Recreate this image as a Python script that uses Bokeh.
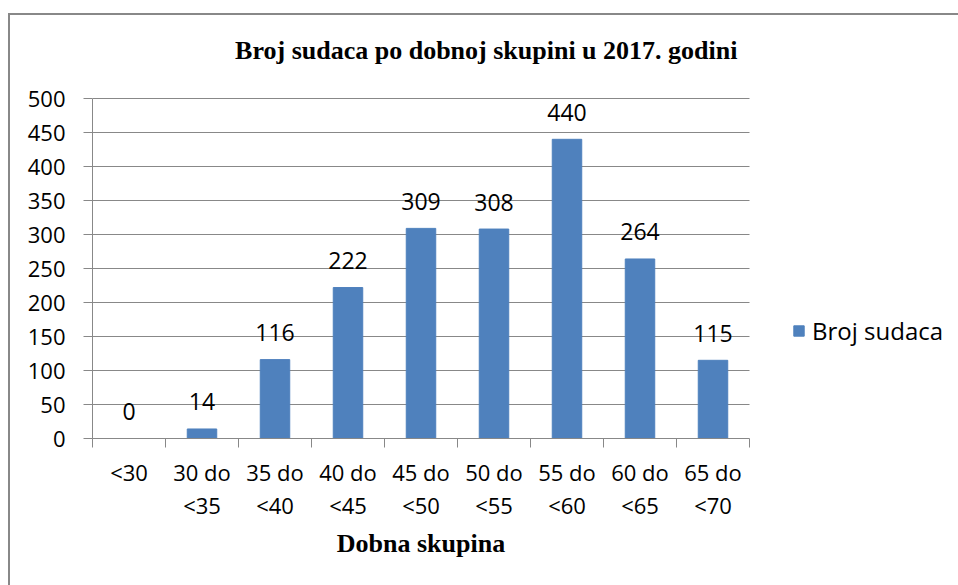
from bokeh.plotting import figure
from bokeh.models import Range1d, FixedTicker, LinearAxis, Legend, LegendItem, Label
from bokeh.core.properties import value
from bokeh.embed import file_html
from bokeh.resources import INLINE

title_text = "Broj sudaca po dobnoj skupini  u 2017. godini"
x_title = "Dobna skupina"
series_name = "Broj sudaca"
categories = ["<30", "30 do\n<35", "35 do\n<40", "40 do\n<45", "45 do\n<50",
              "50 do\n<55", "55 do\n<60", "60 do\n<65", "65 do\n<70"]
counts = [0, 14, 116, 222, 309, 308, 440, 264, 115]
y_ticks = [0, 50, 100, 150, 200, 250, 300, 350, 400, 450, 500]

BAR = "#4F81BD"
GRID = "#888888"
SANS = "Open Sans"
SERIF = "Liberation Serif"

n = len(categories)
centers = [i + 0.5 for i in range(n)]
bounds = [float(i) for i in range(n + 1)]
line1 = [c.split("\n")[0] for c in categories]
line2 = [(c.split("\n") + [""])[1] for c in categories]

W, H = 958, 585
LEFT, TOP, BOTTOM = 92, 20, 438          # frame edges on the canvas
CAT_PX = 73.0                            # pixels per category
Y_PX = 340.0 / (y_ticks[-1] - y_ticks[0])  # pixels per count unit

x_end = (W - LEFT) / CAT_PX
y_end = y_ticks[0] + (BOTTOM - TOP) / Y_PX

p = figure(width=W, height=H, output_backend="svg", toolbar_location=None,
           x_range=Range1d(0, x_end), y_range=Range1d(y_ticks[0], y_end),
           min_border_left=LEFT, min_border_right=0,
           min_border_top=TOP, min_border_bottom=H - BOTTOM)
p.styles = {"background-image": "linear-gradient(#888888, #888888), linear-gradient(#888888, #888888)",
            "background-position": "8px 13px, 8px 13px",
            "background-size": "100% 2px, 2px 100%",
            "background-repeat": "no-repeat, no-repeat"}
p.outline_line_color = None
p.background_fill_color = "white"
p.border_fill_alpha = 0

# y axis
ya = p.yaxis[0]
ya.ticker = FixedTicker(ticks=y_ticks)
ya.bounds = (y_ticks[0], y_ticks[-1])
ya.axis_line_color = GRID
ya.major_tick_line_color = GRID
ya.major_tick_out = 9
ya.major_tick_in = 0
ya.minor_tick_line_color = None
ya.major_label_standoff = 18
ya.major_label_text_font = SANS
ya.major_label_text_font_size = "22px"
ya.major_label_text_color = "black"
p.ygrid.grid_line_color = GRID
p.ygrid.cross_bounds = (0, n)
p.xgrid.visible = False

# x axis, first line of category labels
xa = p.xaxis[0]
xa.ticker = FixedTicker(ticks=centers, minor_ticks=bounds)
xa.bounds = (0, n)
xa.major_label_overrides = {c: t for c, t in zip(centers, line1)}
xa.axis_line_color = GRID
xa.major_tick_line_color = None
xa.major_tick_out = 0
xa.major_tick_in = 0
xa.minor_tick_line_color = GRID
xa.minor_tick_out = 9
xa.minor_tick_in = 0
xa.major_label_standoff = 9
xa.major_label_text_font = SANS
xa.major_label_text_font_size = "22px"
xa.major_label_text_color = "black"

# x axis, second line of category labels
xb = LinearAxis(ticker=FixedTicker(ticks=centers), bounds=(0, n),
                major_label_overrides={c: t for c, t in zip(centers, line2)})
xb.axis_line_color = None
xb.major_tick_line_color = None
xb.minor_tick_line_color = None
xb.major_tick_out = 0
xb.major_tick_in = 0
xb.major_label_standoff = 0
xb.major_label_text_font = SANS
xb.major_label_text_font_size = "22px"
xb.major_label_text_color = "black"
p.add_layout(xb, "below")

# x axis title, centred under the nine categories
mid = (bounds[0] + bounds[-1]) / 2
xc = LinearAxis(ticker=FixedTicker(ticks=[mid]), bounds=(0, n),
                major_label_overrides={mid: x_title})
xc.axis_line_color = None
xc.major_tick_line_color = None
xc.minor_tick_line_color = None
xc.major_tick_out = 0
xc.major_tick_in = 0
xc.major_label_standoff = 6
xc.major_label_text_font = SERIF
xc.major_label_text_font_style = "bold"
xc.major_label_text_font_size = "26px"
xc.major_label_text_color = "black"
p.add_layout(xc, "below")

bars = p.vbar(x=centers, top=counts, bottom=0, width=0.404,
              fill_color=BAR, line_color=BAR)

p.text(x=centers, y=counts, text=[str(v) for v in counts],
       text_align="center", text_baseline="middle", y_offset=-27,
       text_font=value(SANS), text_font_size="23px", text_color="black")

p.add_layout(Label(x=(489 - LEFT) / CAT_PX, y=(BOTTOM - 50) / Y_PX,
                   text=title_text, text_align="center",
                   text_baseline="alphabetic", text_font=SERIF,
                   text_font_style="bold", text_font_size="26px",
                   text_color="black"))

legend = Legend(items=[LegendItem(label=series_name, renderers=[bars])],
                location=(792 - LEFT, 91), padding=0, margin=0, spacing=0,
                glyph_width=13, glyph_height=13, label_standoff=7,
                label_text_font=SANS, label_text_font_size="24px",
                label_text_color="black",
                border_line_color=None, background_fill_alpha=0)
p.add_layout(legend, "center")

open("out.html", "w").write(file_html(p, INLINE))
